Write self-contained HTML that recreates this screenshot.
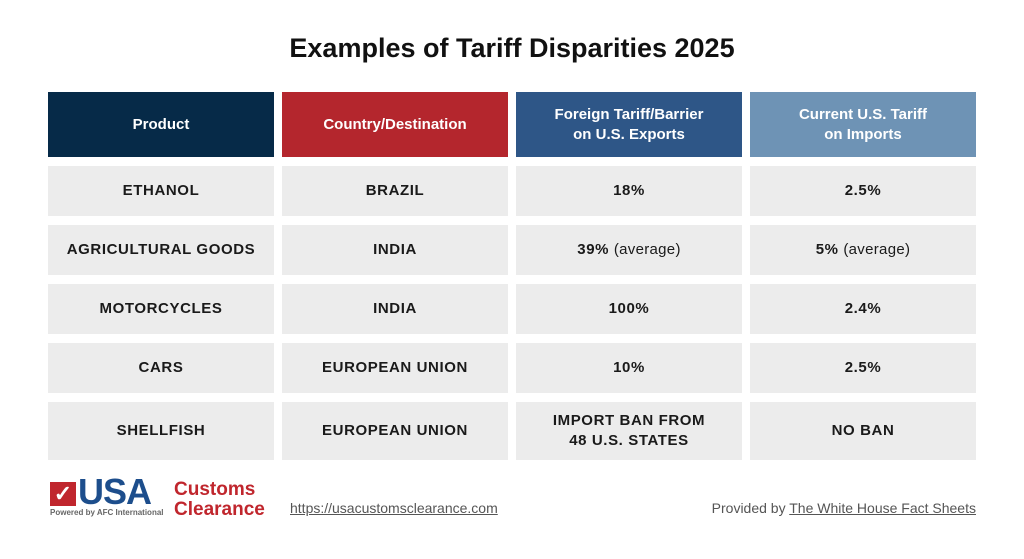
<!DOCTYPE html>
<html><head><style>
body{margin:0;width:1024px;height:559px;background:#fff;font-family:"Liberation Sans",sans-serif;position:relative;overflow:hidden}
.t{position:absolute;top:33px;left:0;width:1024px;text-align:center;font-size:27px;font-weight:bold;color:#111}
.c{position:absolute;display:flex;align-items:center;justify-content:center;text-align:center;font-size:15px;font-weight:bold;color:#1a1a1a;background:#ececec;letter-spacing:0.6px;line-height:20px}
.h{color:#fff;letter-spacing:0}
.n{font-weight:normal;letter-spacing:0.3px}
</style></head><body>
<div class="t">Examples of Tariff Disparities 2025</div>
<div class="c h" style="left:48px;top:92px;width:226px;height:65px;background:#062a48">Product</div>
<div class="c h" style="left:282px;top:92px;width:226px;height:65px;background:#b4262d">Country/Destination</div>
<div class="c h" style="left:516px;top:92px;width:226px;height:65px;background:#2e5687">Foreign Tariff/Barrier<br>on U.S. Exports</div>
<div class="c h" style="left:750px;top:92px;width:226px;height:65px;background:#6e93b5">Current U.S. Tariff<br>on Imports</div>

<div class="c" style="left:48px;top:166px;width:226px;height:50px">ETHANOL</div>
<div class="c" style="left:282px;top:166px;width:226px;height:50px">BRAZIL</div>
<div class="c" style="left:516px;top:166px;width:226px;height:50px">18%</div>
<div class="c" style="left:750px;top:166px;width:226px;height:50px">2.5%</div>

<div class="c" style="left:48px;top:225px;width:226px;height:50px">AGRICULTURAL GOODS</div>
<div class="c" style="left:282px;top:225px;width:226px;height:50px">INDIA</div>
<div class="c" style="left:516px;top:225px;width:226px;height:50px">39%&nbsp;<span class="n">(average)</span></div>
<div class="c" style="left:750px;top:225px;width:226px;height:50px">5%&nbsp;<span class="n">(average)</span></div>

<div class="c" style="left:48px;top:284px;width:226px;height:50px">MOTORCYCLES</div>
<div class="c" style="left:282px;top:284px;width:226px;height:50px">INDIA</div>
<div class="c" style="left:516px;top:284px;width:226px;height:50px">100%</div>
<div class="c" style="left:750px;top:284px;width:226px;height:50px">2.4%</div>

<div class="c" style="left:48px;top:343px;width:226px;height:50px">CARS</div>
<div class="c" style="left:282px;top:343px;width:226px;height:50px">EUROPEAN UNION</div>
<div class="c" style="left:516px;top:343px;width:226px;height:50px">10%</div>
<div class="c" style="left:750px;top:343px;width:226px;height:50px">2.5%</div>

<div class="c" style="left:48px;top:402px;width:226px;height:58px">SHELLFISH</div>
<div class="c" style="left:282px;top:402px;width:226px;height:58px">EUROPEAN UNION</div>
<div class="c" style="left:516px;top:402px;width:226px;height:58px">IMPORT BAN FROM<br>48 U.S. STATES</div>
<div class="c" style="left:750px;top:402px;width:226px;height:58px">NO BAN</div>

<div style="position:absolute;left:50px;top:482px;width:26px;height:24px;background:#c0262d;color:#fff;font-size:22px;font-weight:bold;line-height:24px;text-align:center">✓</div>
<div style="position:absolute;left:78px;top:474px;font-size:36px;font-weight:900;color:#1d4e8c;line-height:36px;letter-spacing:-1px">USA</div>
<div style="position:absolute;left:50px;top:508px;font-size:8px;font-weight:bold;color:#666">Powered by AFC International</div>
<div style="position:absolute;left:174px;top:480px;font-size:19px;font-weight:bold;color:#c0262d;line-height:20px">Customs<br>Clearance</div>
<div style="position:absolute;left:290px;top:500px;font-size:14px;color:#555;text-decoration:underline">https://usacustomsclearance.com</div>
<div style="position:absolute;right:48px;top:500px;font-size:14px;color:#555">Provided by <span style="text-decoration:underline">The White House Fact Sheets</span></div>
</body></html>
